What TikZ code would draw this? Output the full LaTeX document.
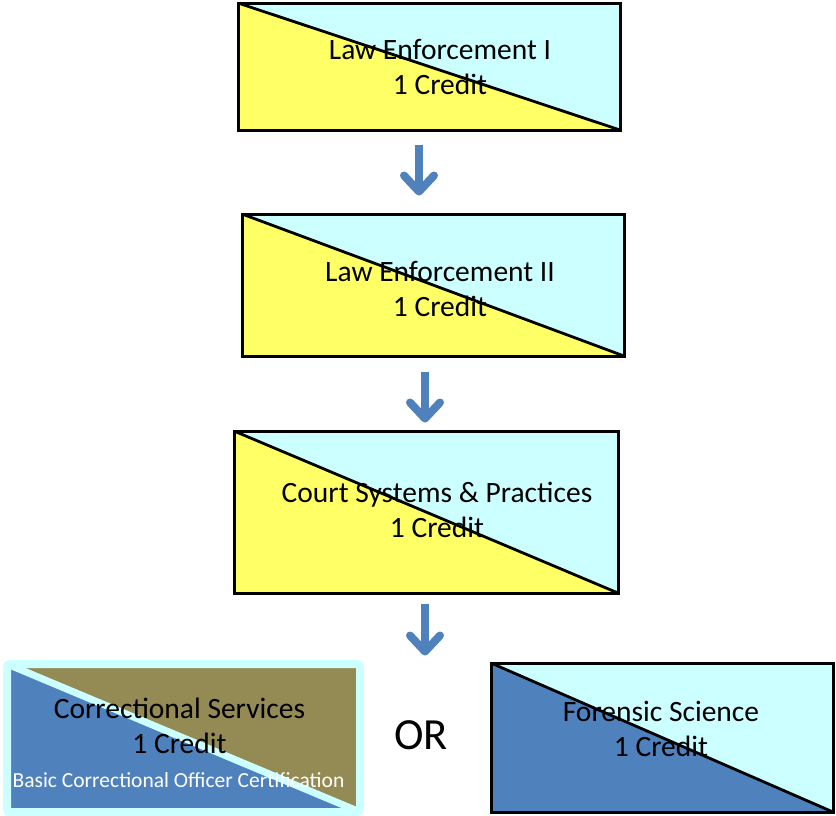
\documentclass[tikz,border=0pt]{standalone}
\usepackage{fontspec}
\setmainfont{Carlito}
\usetikzlibrary{arrows.meta,calc}
\definecolor{lcyan}{HTML}{CCFFFF}
\definecolor{lyel}{HTML}{FFFF66}
\definecolor{khaki}{HTML}{948A54}
\definecolor{sblue}{HTML}{4F81BD}
\tikzset{
box/.style 2 args={draw, line width=3pt, minimum width=#1, minimum height=#2, inner sep=0pt},
split/.style n args={3}{path picture={
 \fill[#1] (path picture bounding box.north west) -- (path picture bounding box.south west)
   -- (path picture bounding box.south east) -- cycle;
 \fill[#2] (path picture bounding box.north west) -- (path picture bounding box.north east)
   -- (path picture bounding box.south east) -- cycle;
 \draw[#3] (path picture bounding box.north west) -- (path picture bounding box.south east);}},
txt/.style={align=center, inner sep=0pt, font=\fontsize{29.5}{35}\selectfont},
flow/.style={draw=sblue, line width=8pt, -{Straight Barb[length=16pt,width=30pt,round]}}
}
\begin{document}
\begin{tikzpicture}[x=1pt,y=-1pt]
\useasboundingbox (0,0) rectangle (836,815);
\path
(429,66.5) node[box={382pt}{127pt}, split={lyel}{lcyan}{black,line width=2.8pt}] (le1) {}
+(11,0)    node[txt] (le1t) {Law Enforcement I\\1 Credit}
(433,285)  node[box={382pt}{142pt}, split={lyel}{lcyan}{black,line width=2.8pt}] (le2) {}
+(7,4)     node[txt] (le2t) {Law Enforcement II\\1 Credit}
(426,512)  node[box={384pt}{162pt}, split={lyel}{lcyan}{black,line width=2.8pt}] (cs) {}
+(11,-2)   node[txt] (cst) {Court Systems \& Practices\\1 Credit}
(183.5,738) node[box={353pt}{148pt}, draw=lcyan, line width=8pt, rounded corners=3pt,
             split={sblue}{khaki}{lcyan,line width=7pt}] (cor) {}
+(-4,-12)  node[txt] (cort) {Correctional Services\\1 Credit}
+(-5,42)   node[txt, text=white, font=\fontsize{21.5}{25}\selectfont] (cert) {Basic Correctional Officer Certification}
(662,737.5) node[box={342pt}{149pt}, split={sblue}{lcyan}{black,line width=2.8pt}] (fs) {}
+(-1,-9)   node[txt] (fst) {Forensic Science\\1 Credit}
(421,735)  node[txt, font=\fontsize{44.5}{52}\selectfont] (or) {OR}
;
\coordinate (a1) at ([xshift=-10pt,yshift=-13pt]le1.south);
\coordinate (b1) at ([xshift=-14pt,yshift=17pt]le2.north);
\coordinate (a2) at ([xshift=-8pt,yshift=-14pt]le2.south);
\coordinate (b2) at ([xshift=-1pt,yshift=7pt]cs.north);
\coordinate (a3) at ([xshift=-1pt,yshift=-9pt]cs.south);
\coordinate (b3) at ([xshift=-1pt,yshift=-61pt]cs.south);
\draw[flow] (a1) -- (b1);
\draw[flow] (a2) -- (b2);
\draw[flow] (a3) -- (b3);
\end{tikzpicture}
\end{document}
